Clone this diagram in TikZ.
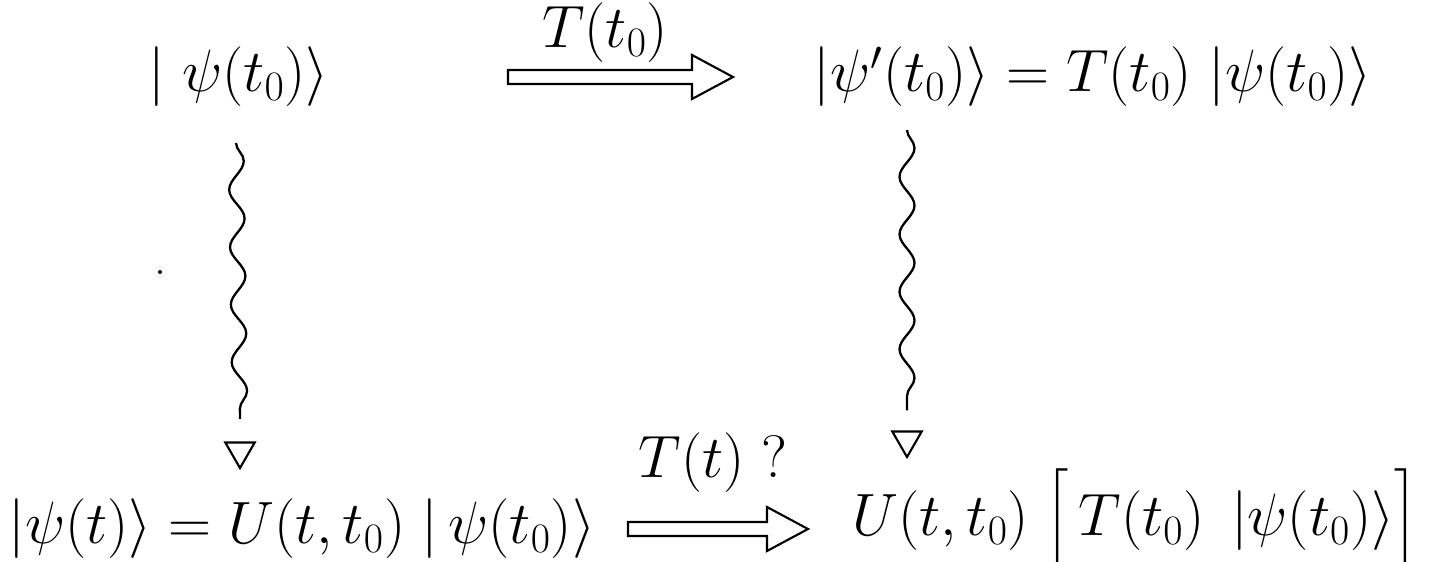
\RequirePackage{fix-cm}
\documentclass[tikz,border=0pt]{standalone}
\usepackage{amsmath}
\usepackage{tikz}
\usetikzlibrary{positioning,shapes.geometric,decorations.pathmorphing,calc}

\begin{document}
\begin{tikzpicture}[
  ket/.style={inner sep=0pt, font=\fontsize{34}{40}\selectfont},
  wave/.style={line width=1.3pt, decorate,
    decoration={snake, amplitude=0.15cm, segment length=1.15cm}},
  tiphead/.style={regular polygon, regular polygon sides=3, shape border rotate=180,
    draw, line width=1.2pt, minimum size=0.68cm, inner sep=0pt},
  fatarrow/.style={line width=1.2pt, to path={
    let \p1=(\tikztostart), \p2=(\tikztotarget) in
    (\x1,\y1+0.14cm) -- (\x2-0.82cm,\y1+0.14cm) -- (\x2-0.82cm,\y1+0.44cm)
    -- (\x2,\y1) -- (\x2-0.82cm,\y1-0.44cm) -- (\x2-0.82cm,\y1-0.14cm)
    -- (\x1,\y1-0.14cm) -- cycle}},
]
  \useasboundingbox (0,0) rectangle (28.82,11.22);

  % states at t_0
  \node[ket] (psiA) at (4.78,9.68) {$|\;\psi(t_0)\rangle$};
  \node[ket] (psiB) at (21.86,9.68) {$|\psi'(t_0)\rangle = T(t_0)\;|\psi(t_0)\rangle$};
  \node[ket] (tA) at (12.1,10.56) {$T(t_0)$};
  \draw[fatarrow] (psiA.east -| 10.16,0) to (psiB.west -| 14.66,0);

  % time evolution
  \node[tiphead] (tipA) at (4.8,2.2) {};
  \node[tiphead] (tipB) at (18.14,2.42) {};
  \coordinate (wA) at (4.72,8.36);
  \coordinate (wB) at (18.14,8.62);
  \draw[wave] (wA) -- ([yshift=0.45cm]tipA.north);
  \draw[wave] (wB) -- ([yshift=0.4cm]tipB.north);
  \fill (3.2,5.78) circle (0.04);

  % states at t
  \node[ket] (psiC) at (6.04,0.64) {$|\psi(t)\rangle = U(t,t_0)\;|\,\psi(t_0)\rangle$};
  \node[ket] (psiD) at (22.7,0.8) {$U(t,t_0)\;\Bigl[\,T(t_0)\;\,|\psi(t_0)\rangle\Bigr]$};
  \node[ket] (tB) at (14.26,1.96) {$T(t)\;?$};
  \draw[fatarrow] (psiC.east -| 12.56,0) to (psiD.west -| 16.16,0);
\end{tikzpicture}
\end{document}
